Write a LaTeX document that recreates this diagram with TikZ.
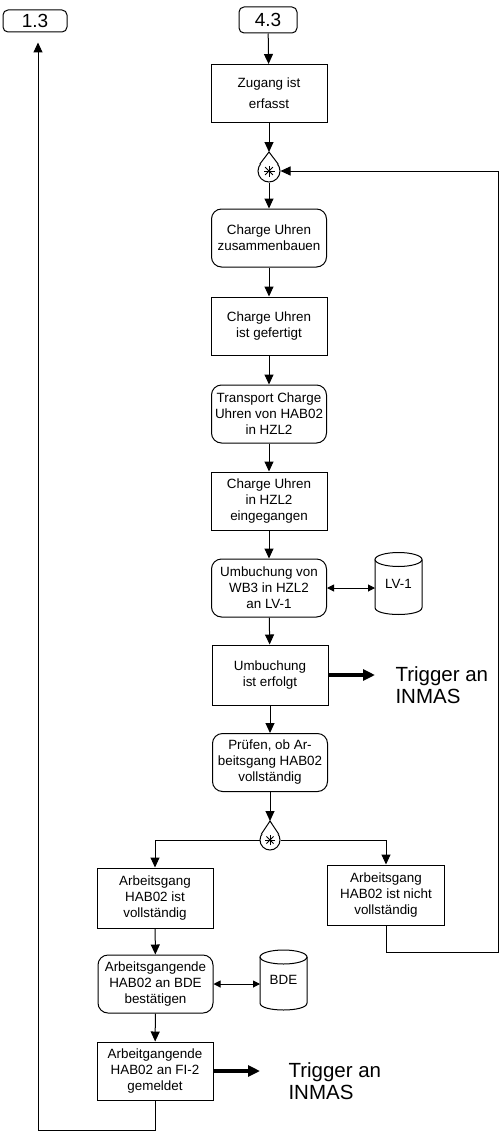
\documentclass[tikz,border=0pt]{standalone}
\usepackage{fontspec}
\setmainfont{Liberation Sans}
\usetikzlibrary{arrows.meta,calc}

\begin{document}
\begin{tikzpicture}[x=1pt,y=-1pt,
  line width=1pt,
  every node/.style={font=\fontsize{13.4}{16}\selectfont, align=center, inner sep=1pt},
  event/.style={draw, rectangle, minimum width=116pt, minimum height=58pt},
  func/.style={draw, rectangle, rounded corners=10pt, minimum width=115pt, minimum height=58pt},
  conn/.style={draw, rectangle, rounded corners=5pt, font=\fontsize{19}{22}\selectfont},
  store/.style={minimum width=47pt, minimum height=62pt, inner sep=0pt, outer sep=0pt},
  merge/.style={draw, circle, fill=white, inner sep=0pt},
  arr/.style={-{Triangle[length=10pt,width=9pt]}},
  biarr/.style={{Triangle[length=7pt,width=7pt]}-{Triangle[length=7pt,width=7pt]}},
  trig/.style={line width=3.5pt, -{Triangle[length=12pt,width=11pt]}},
  trigtext/.style={font=\fontsize{20.5}{21.5}\selectfont, align=left, inner sep=0pt, anchor=west}
]
\useasboundingbox (0,0) rectangle (502,1132);

% connectors to other process chains
\node[conn, minimum width=64pt, minimum height=22pt] (c13) at (35,21) {1.3};
\node[conn, minimum width=58pt, minimum height=26pt] (c43) at (268,20) {4.3};

% main column
\node[event] (zug) at (269,93.5) {Zugang ist\\[5pt]erfasst};
\node[merge, minimum size=22pt] (m1) at (269,171) {};
\coordinate (m1tip) at (269,152);
\node[func] (cu) at (269,238) {Charge Uhren\\zusammenbauen};
\node[event] (cf) at (269,326) {Charge Uhren\\ist gefertigt};
\node[func] (tr) at (269,414) {Transport Charge\\Uhren von HAB02\\in HZL2};
\node[event] (ein) at (269,501) {Charge Uhren\\in HZL2\\eingegangen};
\node[func] (umb) at (269,588) {Umbuchung von\\WB3 in HZL2\\an LV-1};
\node[store] (lv1) at (398.5,583.5) {LV-1};
\node[event, minimum height=60pt] (erf) at (270,675) {Umbuchung\\ist erfolgt};
\node[trigtext] (trig1) at (395,685) {Trigger an\\INMAS};
\node[func] (pr) at (270,762.5) {Prüfen, ob Ar-\\beitsgang HAB02\\vollständig};
\node[merge, minimum size=20pt] (m2) at (270,840) {};
\coordinate (m2tip) at (270,821);

% branches
\node[event, minimum height=60pt] (av) at (155,898) {Arbeitsgang\\HAB02 ist\\vollständig};
\node[event, minimum width=117pt, minimum height=60pt] (anv) at (386,895) {Arbeitsgang\\HAB02 ist nicht\\vollständig};
\node[func] (bdef) at (155.5,984) {Arbeitsgangende\\HAB02 an BDE\\bestätigen};
\node[store, minimum height=60pt] (bde) at (283.5,980) {BDE};
\node[event] (fi) at (155,1071) {Arbeitgangende\\HAB02 an FI-2\\gemeldet};
\node[trigtext] (trig2) at (288,1081) {Trigger an\\INMAS};

\coordinate (fbk) at (498,952);
\coordinate (ret) at (38,1130);

% drop-shaped merge symbols
\filldraw[fill=white] (m1.144.6) -- (m1tip) -- (m1.35.4);
\filldraw[fill=white] (m2.148.2) -- (m2tip) -- (m2.31.8);
\foreach \a in {0,45,90,135} {
  \draw[line width=0.8pt] ($(m1)+(\a:5.5)$) -- ($(m1)-(\a:5.5)$);
  \draw[line width=0.8pt] ($(m2)+(\a:5)$) -- ($(m2)-(\a:5)$);
}

% data stores
\foreach \s in {lv1,bde} {
  \draw ($(\s.north)+(0,7)$) ellipse [x radius=23.5pt, y radius=7pt];
  \draw ($(\s.north west)+(0,7)$) -- ($(\s.south west)+(0,-7)$)
    .. controls ($(\s.south west)+(0,2.33)$) and ($(\s.south east)+(0,2.33)$) .. ($(\s.south east)+(0,-7)$)
    -- ($(\s.north east)+(0,7)$);
}

% control flow
\draw[arr] (c43) -- (zug);
\draw[arr] (zug) -- (m1tip);
\draw[arr] (m1) -- (cu);
\draw[arr] (cu) -- (cf);
\draw[arr] (cf) -- (tr);
\draw[arr] (tr) -- (ein);
\draw[arr] (ein) -- (umb);
\draw[biarr] (umb.east) -- (umb.east -| lv1.west);
\draw[arr] (umb) -- (erf);
\draw[trig] (erf.east) -- ([xshift=-20pt]trig1.west |- erf.east);
\draw[arr] (erf) -- (pr);
\draw[arr] (pr) -- (m2tip);
\draw[arr] (m2.west) -| (av.north);
\draw[arr] (m2.east) -| (anv.north);
\draw[arr] (anv.south) |- (fbk) |- (m1.east);
\draw[arr] (av) -- (bdef);
\draw[biarr] (bdef.east) -- (bdef.east -| bde.west);
\draw[arr] (bdef) -- (fi);
\draw[trig] (fi.east) -- ([xshift=-28pt]trig2.west |- fi.east);
\draw[arr, shorten >=10pt] (fi.south) |- (ret) -- (ret |- c13.south);

\end{tikzpicture}
\end{document}
